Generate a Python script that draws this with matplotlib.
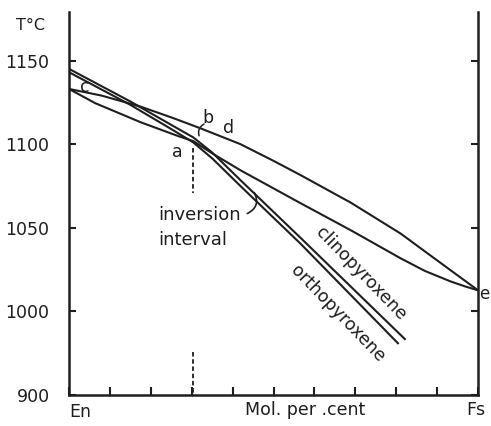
import matplotlib
matplotlib.use("Agg")
import matplotlib.pyplot as plt

# ---- data (x: mol % Fs, T: deg C; bottom of axis is a broken 900) ----
upper_x = [0, 8, 17.4, 25, 32.1, 41.9, 50, 56.6, 68.9, 81.1, 90, 100]
upper_T = [1133, 1129, 1122.5, 1116, 1109.5, 1100, 1090, 1081.5, 1065, 1046.5, 1030.5, 1012.6]

lower_x = [0, 6.4, 17.4, 26.7, 30.4, 35, 41.9, 56.6, 68.9, 81.1, 87, 93.4, 97, 100]
lower_T = [1133, 1124.5, 1113.2, 1104.8, 1101.8, 1094.5, 1084.4, 1064.7, 1048.5, 1031.7, 1024.2,
           1017.8, 1014.8, 1012.6]

clino_x = [0, 15, 25, 30.4, 35, 41.9, 56.6, 82.3]
clino_T = [1145, 1125.5, 1111.5, 1104, 1095, 1078.5, 1044, 983]

ortho_x = [0, 15, 25, 30.4, 35, 41.9, 56.6, 80.6]
ortho_T = [1143, 1123.5, 1109, 1101, 1091.5, 1075, 1040.5, 980.5]

inversion_x = 30.4
ytick_pos = [950, 1000, 1050, 1100, 1150]
ytick_lab = ["900", "1000", "1050", "1100", "1150"]
xtick_pos = [0, 10, 20, 30, 40, 50, 60, 70, 80, 90, 100]

INK = "#1e1e1e"
LW = 1.5

fig = plt.figure(figsize=(4.91, 4.26), dpi=100)
ax = fig.add_axes([69 / 491, 31 / 426, 409 / 491, 383 / 426])
ax.set_xlim(0, 100)
ax.set_ylim(950, 1179)

for xs, ts in [(upper_x, upper_T), (lower_x, lower_T), (clino_x, clino_T), (ortho_x, ortho_T)]:
    ax.plot(xs, ts, color=INK, lw=LW, solid_capstyle="butt", solid_joinstyle="round")

# dashed inversion markers
ax.plot([inversion_x, inversion_x], [1097.5, 1071], color=INK, lw=1.3, ls=(0, (2.5, 1.5)))
ax.plot([inversion_x, inversion_x], [976, 950], color=INK, lw=1.3, ls=(0, (2.5, 1.5)))

# spines
ax.spines["top"].set_visible(False)
for s in ["left", "right", "bottom"]:
    ax.spines[s].set_linewidth(1.8)
    ax.spines[s].set_color(INK)

ax.set_yticks(ytick_pos)
ax.set_yticklabels(ytick_lab)
ax.set_xticks(xtick_pos)
ax.set_xticklabels([])
ax.tick_params(axis="y", direction="in", length=5, width=1.5, color=INK,
               labelsize=12.5, pad=14, right=True, labelcolor=INK)
ax.tick_params(axis="x", direction="in", length=6, width=1.5, color=INK)

fs = 12.5
xax = ax.get_xaxis_transform()
ax.text(-9.4, 1171, "T°C", ha="center", va="center", fontsize=11.5, color=INK, clip_on=False)
ax.text(2.7, -0.044, "En", ha="center", va="center", fontsize=fs, color=INK,
        transform=xax, clip_on=False)
ax.text(99.5, -0.040, "Fs", ha="center", va="center", fontsize=fs, color=INK,
        transform=xax, clip_on=False)
ax.text(57.7, -0.040, "Mol. per .cent", ha="center", va="center", fontsize=12.5, color=INK,
        transform=xax, clip_on=False)

ax.text(3.9, 1134, "c", ha="center", va="center", fontsize=fs, color=INK)
ax.text(26.6, 1095, "a", ha="center", va="center", fontsize=fs, color=INK)
ax.text(34.0, 1115.5, "b", ha="center", va="center", fontsize=fs, color=INK)
ax.text(39.1, 1109.5, "d", ha="center", va="center", fontsize=fs, color=INK)
ax.text(101.6, 1010.5, "e", ha="center", va="center", fontsize=12, color=INK, clip_on=False)

ax.text(21.8, 1057.5, "inversion", ha="left", va="center", fontsize=13, color=INK)
ax.text(21.8, 1042.5, "interval", ha="left", va="center", fontsize=13, color=INK)

ax.text(71.3, 1022.5, "clinopyroxene", ha="center", va="center", fontsize=12.5,
        rotation=-46, rotation_mode="anchor", color=INK)
ax.text(65.8, 998.5, "orthopyroxene", ha="center", va="center", fontsize=12.5,
        rotation=-46, rotation_mode="anchor", color=INK)

# leaders
ax.annotate("", xy=(45.3, 1071), xytext=(43.6, 1058.5),
            arrowprops=dict(arrowstyle="-", color=INK, lw=1.2,
                            connectionstyle="arc3,rad=0.5", shrinkA=0, shrinkB=0))
ax.annotate("", xy=(31.8, 1105), xytext=(33.0, 1112),
            arrowprops=dict(arrowstyle="-", color=INK, lw=1.1,
                            connectionstyle="arc3,rad=0.4", shrinkA=0, shrinkB=0))

fig.savefig("out.png", dpi=100, facecolor="white")
